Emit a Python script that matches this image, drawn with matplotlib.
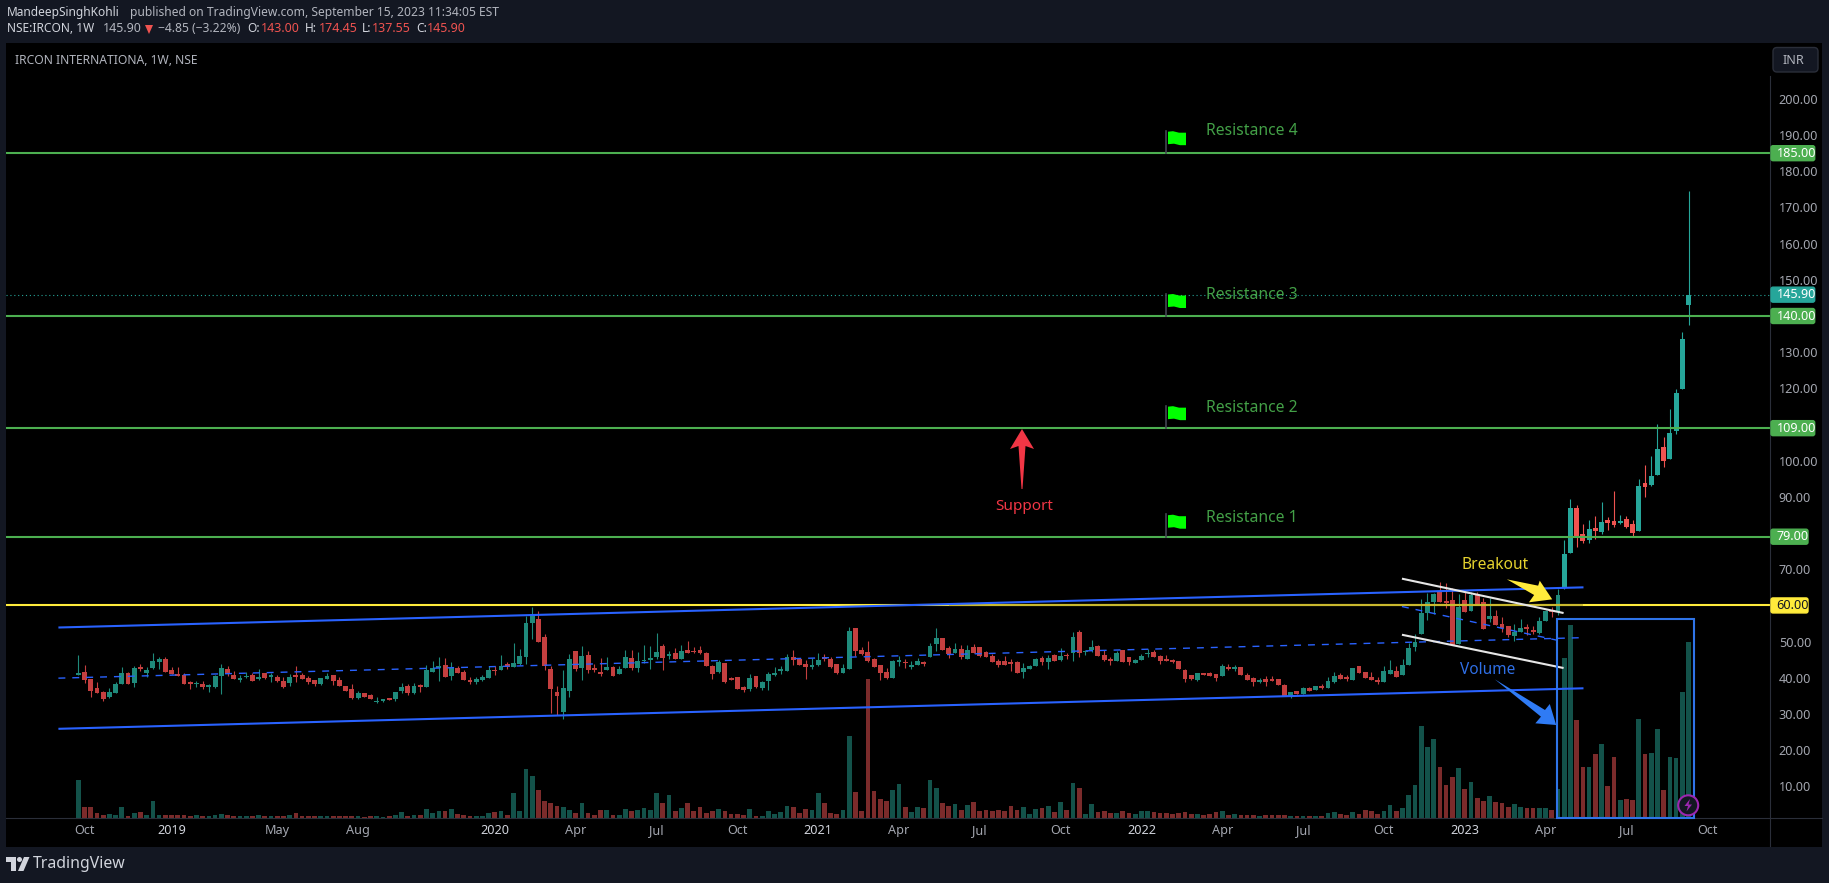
import matplotlib
matplotlib.use("Agg")
import matplotlib.pyplot as plt
from matplotlib.patches import Rectangle, Polygon, Ellipse, FancyBboxPatch

# ---- data (weekly candles) ----
opens = [40.8,41.7,39.7,37.2,36.1,34.6,35.9,38.4,41.4,38.7,
 43.0,41.4,42.6,44.4,45.3,42.2,41.1,40.8,38.9,38.2,
 38.3,37.5,37.5,40.6,42.5,40.8,39.5,40.1,40.8,39.7,
 41.4,40.1,40.3,39.2,38.6,40.8,40.8,40.0,39.5,38.3,
 39.7,40.8,39.5,37.8,37.0,34.5,35.9,35.3,33.4,33.6,
 34.3,34.2,36.4,37.8,35.9,38.1,37.5,41.7,42.8,43.6,
 40.6,42.8,41.7,39.5,38.9,39.5,40.0,42.2,42.2,43.9,
 43.0,43.9,45.8,55.2,56.3,51.3,42.5,36.1,30.6,36.4,
 47.5,42.8,46.4,42.8,41.7,42.2,43.0,41.1,42.8,45.5,
 42.8,44.7,45.0,45.8,48.9,46.1,46.9,45.3,47.7,47.5,
 47.7,46.9,43.3,41.7,44.1,40.0,40.3,37.5,37.0,40.6,
 37.2,39.2,40.8,41.9,41.9,45.8,45.3,43.9,43.0,43.6,
 45.8,45.3,43.9,41.4,42.5,53.8,47.7,47.2,45.3,43.6,
 41.7,40.0,44.4,44.4,43.0,43.6,44.4,45.8,49.4,51.1,
 48.3,46.9,48.0,45.3,48.6,48.6,47.2,46.1,44.7,44.7,
 44.4,44.4,41.7,42.5,43.3,45.5,44.4,46.4,45.0,46.4,
 46.9,52.7,47.2,47.7,48.9,46.4,45.3,44.7,47.7,45.8,
 44.2,45.0,46.7,47.2,46.1,45.3,45.0,44.7,42.2,40.8,
 39.5,41.4,41.4,41.1,40.6,43.0,42.5,43.0,40.8,40.0,
 38.9,39.7,39.7,39.7,38.1,35.0,36.4,35.6,37.2,36.7,
 37.8,37.2,38.9,40.8,40.3,39.4,43.3,41.7,40.3,39.4,
 38.9,41.1,41.9,40.8,43.6,48.6,52.2,58.0,61.0,63.8,
 61.3,61.6,49.4,61.6,58.5,63.0,61.0,56.3,57.1,54.9,
 54.4,51.6,52.7,54.1,53.3,52.4,55.8,58.8,58.3,65.2,
 74.6,86.9,79.7,78.1,81.4,80.3,83.6,83.3,82.8,83.9,
 82.5,80.6,93.8,93.3,96.0,103.8,100.5,108.2,119.8,143.0]
highs = [46.4,43.6,39.7,38.8,36.3,37.1,38.9,43.0,41.7,43.3,
 43.9,43.0,46.9,45.8,45.8,43.0,43.0,41.4,39.2,39.2,
 39.2,38.3,40.8,43.9,43.3,41.9,40.8,41.7,41.4,42.5,
 41.4,41.4,40.8,40.3,41.1,43.3,41.4,40.6,39.5,40.0,
 41.4,40.8,40.3,37.8,38.3,36.4,35.9,35.6,34.7,34.2,
 34.5,36.1,38.6,38.3,38.6,38.3,43.6,44.7,45.8,45.5,
 44.4,43.3,42.2,40.3,40.3,40.8,43.3,43.3,46.4,44.4,
 49.7,48.0,57.1,59.6,58.5,52.2,43.3,37.8,42.2,46.6,
 47.5,48.9,47.5,43.9,45.5,45.8,43.3,43.3,47.7,47.7,
 47.2,49.1,48.9,52.4,49.4,47.5,48.3,49.1,50.2,48.6,
 48.9,47.2,43.6,45.0,44.1,40.3,40.3,37.8,41.1,40.6,
 39.2,41.7,43.0,43.3,46.6,47.7,45.5,45.0,45.5,46.9,
 46.6,45.8,43.9,43.9,54.1,53.8,48.6,50.2,45.5,43.6,
 42.8,45.0,46.1,45.3,44.7,45.5,44.7,49.7,53.8,51.1,
 48.9,49.7,49.1,49.1,49.4,48.6,47.5,46.6,45.3,46.1,
 45.3,44.7,44.2,43.6,45.5,46.1,46.4,46.6,48.3,46.9,
 52.7,53.3,47.7,50.5,49.1,47.7,45.8,47.5,47.7,45.8,
 45.3,46.6,48.0,47.7,46.4,46.4,45.3,44.7,42.5,40.8,
 41.4,41.4,41.7,41.1,43.9,43.9,43.6,43.0,41.4,40.3,
 40.0,40.6,40.6,39.7,38.3,36.1,36.4,37.5,37.5,37.8,
 38.3,40.3,41.7,41.4,40.8,42.8,43.3,41.7,41.7,40.3,
 43.3,45.0,43.3,45.3,49.6,52.2,61.9,63.5,63.5,66.5,
 66.3,64.9,63.2,63.8,63.8,63.8,62.1,62.1,58.8,56.9,
 54.4,54.9,56.3,54.9,54.4,56.9,58.8,59.6,64.6,78.1,
 89.4,87.8,82.5,83.6,84.7,88.6,84.4,91.6,85.0,84.7,
 83.6,94.9,98.8,101.3,110.2,106.6,114.3,119.8,135.6,174.45]
lows = [40.8,38.7,34.8,35.7,33.7,34.3,35.9,38.4,38.4,37.5,
 41.9,40.3,42.5,42.5,41.7,41.1,40.6,38.2,37.0,37.5,
 37.0,36.1,37.2,35.6,40.6,39.7,38.9,40.0,39.2,39.5,
 39.7,38.9,38.9,37.2,37.8,38.9,39.7,38.3,37.8,38.1,
 39.7,38.1,37.8,36.4,34.2,34.2,34.7,34.2,33.1,33.4,
 33.9,33.6,35.9,35.3,35.6,36.1,37.5,41.7,39.2,40.3,
 39.5,41.4,39.5,38.3,38.3,39.2,40.0,40.8,42.2,42.5,
 43.0,43.6,43.9,50.8,50.0,42.2,30.3,29.8,28.7,34.7,
 41.9,39.5,41.4,41.7,40.6,42.2,40.6,41.1,42.8,42.2,
 41.7,44.2,42.5,45.3,42.2,45.3,45.3,45.3,46.9,46.9,
 46.6,43.3,39.7,41.4,38.6,39.5,37.0,36.1,36.4,37.2,
 36.7,36.7,40.6,41.1,41.9,43.6,43.6,39.7,42.5,43.3,
 44.7,42.8,41.1,41.4,42.5,46.1,46.4,44.4,43.0,39.5,
 39.7,40.0,43.3,42.8,42.5,43.6,43.3,45.8,47.5,47.7,
 45.5,46.9,45.3,45.3,46.9,45.8,45.8,44.4,43.0,43.6,
 41.9,41.4,40.0,42.5,43.3,43.6,42.5,44.7,44.7,45.3,
 44.7,45.8,46.4,47.2,46.1,44.7,43.6,44.7,44.4,43.6,
 44.2,45.0,45.8,45.8,43.9,44.7,44.2,42.5,38.9,39.5,
 39.2,40.8,40.6,39.2,40.6,42.2,41.9,40.8,39.5,37.8,
 38.6,37.8,39.2,38.1,35.0,34.5,35.6,35.6,36.4,36.7,
 37.0,37.2,38.6,39.7,39.2,39.4,41.4,40.0,39.4,38.3,
 38.9,41.1,40.3,40.8,43.6,47.5,52.2,56.0,57.7,61.0,
 59.4,49.1,49.4,58.3,58.5,60.5,53.5,55.5,54.7,52.7,
 51.3,50.2,52.7,51.9,52.2,52.2,55.8,56.9,57.4,64.5,
 74.6,76.2,77.3,77.3,78.4,79.7,80.8,81.7,82.5,81.4,
 79.2,80.6,90.0,93.0,96.0,98.3,100.5,107.4,119.8,137.55]
closes = [41.4,39.5,36.4,35.7,34.2,36.1,38.3,41.4,38.4,42.8,
 42.5,42.2,44.7,45.2,41.7,41.1,40.6,38.4,38.2,38.6,
 37.5,38.1,40.6,42.8,41.0,39.7,40.0,40.6,39.2,40.3,
 40.0,40.8,39.2,37.5,40.3,40.3,39.7,38.9,38.3,40.0,
 40.6,39.2,37.8,36.4,34.5,35.9,34.7,34.2,33.6,34.2,
 34.0,36.1,37.5,35.9,37.8,37.5,42.2,42.8,43.3,40.3,
 42.8,41.4,39.5,38.9,39.7,40.3,42.2,41.9,43.3,43.0,
 44.1,46.1,55.2,57.1,50.0,43.3,37.0,35.0,37.2,45.3,
 42.5,46.1,42.2,42.2,41.1,43.0,40.6,42.5,45.8,42.8,
 44.7,45.0,45.5,47.2,45.5,46.6,45.3,47.5,46.9,47.2,
 46.9,43.3,41.1,44.4,38.9,39.5,37.0,36.7,40.0,37.5,
 38.9,41.1,41.4,42.5,45.8,45.0,43.6,43.0,43.6,45.0,
 45.3,43.0,41.4,42.8,53.0,47.5,46.6,44.7,43.0,41.4,
 40.0,44.7,45.0,44.2,43.6,44.7,43.9,48.9,51.1,47.7,
 46.6,48.0,45.8,47.7,46.9,46.1,45.8,44.4,43.6,43.6,
 43.9,41.4,42.8,43.3,45.3,44.4,45.5,44.7,46.1,46.1,
 51.3,46.9,47.5,48.6,46.1,45.0,44.7,46.9,44.4,44.4,
 45.0,46.1,46.9,45.8,44.7,44.7,44.4,42.5,39.7,39.7,
 41.4,40.8,40.6,40.0,43.3,42.5,43.0,40.8,39.5,38.9,
 39.5,38.9,39.2,38.1,35.0,36.1,35.6,37.2,36.4,37.8,
 37.2,39.2,40.6,39.7,39.7,42.8,41.4,40.0,39.4,38.9,
 41.9,42.2,40.3,43.6,48.3,50.0,58.0,61.0,63.2,61.0,
 60.7,49.1,59.6,58.3,63.0,60.5,53.5,57.1,54.7,53.8,
 51.9,52.7,53.8,53.5,52.7,55.8,58.5,58.3,62.9,74.2,
 86.9,79.0,77.8,81.1,80.6,83.1,82.8,82.2,83.3,81.7,
 80.0,93.0,92.7,95.8,103.2,99.9,107.7,118.7,133.7,145.9]
volumes = [115,33,33,15,10,13,10,33,6,15,19,10,52,10,10,10,10,10,7,9,
 7,7,10,13,8,7,7,7,7,10,7,7,7,7,10,16,7,7,7,7,
 7,7,7,7,7,7,4,7,7,4,7,10,19,7,10,10,28,16,22,22,
 28,13,10,7,7,7,16,19,22,10,76,22,148,127,85,52,46,37,34,25,
 16,46,16,10,
 25,25,10,10,28,22,25,31,25,76,46,70,22,31,46,22,34,16,22,28,
 22,13,13,10,28,7,7,22,13,19,37,34,16,28,25,76,46,16,13,25,
 247,79,22,418,82,58,52,85,103,34,19,34,31,115,91,46,37,43,25,40,
 49,22,25,22,25,22,37,25,34,13,28,31,37,19,49,25,106,91,13,43,
 19,22,16,16,22,16,13,22,22,19,16,16,13,16,19,13,13,
 9,12,18,21,9,12,9,10,10,6,9,9,9,9,6,6,6,6,6,6,
 15,18,12,9,18,12,24,21,12,21,39,21,30,69,99,276,213,237,153,99,
 123,150,87,108,60,51,66,48,45,33,42,33,30,30,30,30,24,87,480,579,
 294,153,153,192,222,96,183,54,57,54,297,192,195,267,84,183,180,378,528]

time_tick_positions = [1,15,32,45,67,80,93,106,119,132,145,158,171,184,197,210,223,236,249,262]
time_tick_labels = ["Oct","2019","May","Aug","2020","Apr","Jul","Oct","2021","Apr","Jul","Oct",
                    "2022","Apr","Jul","Oct","2023","Apr","Jul","Oct"]
price_ticks = [10,20,30,40,50,70,90,100,120,130,150,160,170,180,190,200]
level_values = [185,140,109,79]
level_names = ["Resistance 4","Resistance 3","Resistance 2","Resistance 1"]
level_label_offsets = [21.7,21,20,19]
yellow_level = 60
last_price = 145.90

# trend lines as (week index, price) pairs
channel_upper = ([-3.2,242.1],[53.9,65.0])
channel_lower = ([-3.2,242.1],[25.9,37.1])
channel_mid = ([-3.2,242.1],[39.9,51.1])
flag_upper = ([212.9,238.9],[67.4,57.9])
flag_lower = ([212.9,238.9],[51.9,42.7])
flag_mid = ([212.9,238.9],[59.7,50.0])

assert len(opens)==len(highs)==len(lows)==len(closes)==len(volumes)==260, (len(opens),len(highs),len(lows),len(closes),len(volumes))

FONT = "Noto Sans"
plt.rcParams["font.family"] = [FONT, "DejaVu Sans"]
W, H = 1829, 883
BG = "#131722"
fig = plt.figure(figsize=(W/100, H/100), dpi=100, facecolor=BG)

def frac(x0, y0, x1, y1):
    return [x0/W, 1-y1/H, (x1-x0)/W, (y1-y0)/H]

fig.patches.append(Rectangle((6/W, 1-846.7/H), (1822-6)/W, (846.7-43)/H, transform=fig.transFigure,
                             facecolor="black", edgecolor="none", zorder=-5))

AX = (6, 43, 1770, 818)
# volume pane
vax = fig.add_axes(frac(*AX), facecolor="none", zorder=1)
vax.set_xlim(-11.63, 272.1); vax.set_ylim(0, 2325); vax.axis("off")
ax = fig.add_axes(frac(*AX), facecolor="none", zorder=2)
ax.set_xlim(-11.63, 272.1); ax.set_ylim(1.25, 215.45)
for s in ax.spines.values():
    s.set_visible(False)

idx = list(range(len(opens)))
up = [c >= o for o, c in zip(opens, closes)]
vax.bar(idx, volumes, width=0.76, linewidth=0,
        color=["#13524a" if u else "#7b2b2b" for u in up])

def cols(i, u):
    if i >= 239:
        return "#26a69a" if u else "#ef5350"
    return "#1f8a7b" if u else "#c43f3f"
cc = [cols(i, u) for i, u in zip(idx, up)]
ax.vlines(idx, lows, highs, colors=cc, linewidth=0.8, zorder=3)
ax.bar(idx, [abs(c-o) for o, c in zip(opens, closes)], bottom=[min(o, c) for o, c in zip(opens, closes)],
       width=0.78, color=cc, linewidth=0, zorder=3)

# levels
GREEN = "#4caf50"
for v in level_values:
    ax.axhline(v, color=GREEN, lw=1.5, zorder=5)
ax.axhline(yellow_level, color="#ffeb3b", lw=1.5, zorder=5)
ax.plot([140, 242], [yellow_level, yellow_level], color="#c9b82e", lw=1.5, zorder=5.1, solid_capstyle="butt")
ax.axhline(last_price, color="#26a69a", lw=0.8, ls=(0, (1, 2.5)), zorder=2)

BLUE = "#2962ff"
for ln in (channel_upper, channel_lower):
    ax.plot(*ln, color=BLUE, lw=1.5, zorder=6, solid_capstyle="butt")
for ln in (channel_mid, flag_mid):
    ax.plot(*ln, color=BLUE, lw=1.0, ls=(0, (5, 5)), zorder=6)
for ln in (flag_upper, flag_lower):
    ax.plot(*ln, color="#e6e6e6", lw=1.5, zorder=6, solid_capstyle="butt")

# axis ticks
ax.yaxis.tick_right()
ax.set_yticks(price_ticks, [f"{v:.2f}" for v in price_ticks])
ax.tick_params(axis="y", length=0, pad=6.3, labelsize=9.1, labelcolor="#a3a6af")
ax.set_xticks(time_tick_positions, time_tick_labels)
ax.tick_params(axis="x", length=0, pad=4.5, labelsize=9.1, labelcolor="#a3a6af")
for lab in ax.get_xticklabels():
    if lab.get_text().isdigit():
        lab.set_color("#d1d4dc")
        lab.set_fontweight("medium")

# overlay in picture pixels for annotations and chrome
ov = fig.add_axes([0, 0, 1, 1], facecolor="none", zorder=3)
ov.set_xlim(0, W); ov.set_ylim(H, 0); ov.axis("off")

ov.plot([6, 1822], [818, 818], color="#2a2e39", lw=0.8)
ov.plot([1770, 1770], [76, 846], color="#2a2e39", lw=0.8)

def py(v):
    return 536.7 - (v - 79) * 3.618

def tag(v, col, txt, tc="white", right=1816.7):
    ov.add_patch(FancyBboxPatch((1771, py(v)-7.5), right-1773, 15, boxstyle="round,pad=0,rounding_size=2",
                                facecolor=col, edgecolor=col, lw=1.0, zorder=8))
    ov.text(1776.5, py(v)+0.3, txt, color=tc, fontsize=9.1, ha="left", va="center", zorder=9)

for v in level_values:
    tag(v, GREEN, f"{v:.2f}", right=1816.7 if v >= 100 else 1810)
tag(yellow_level, "#ffeb3b", f"{yellow_level:.2f}", tc="#131722", right=1810)
tag(last_price, "#26a69a", f"{last_price:.2f}")

# flags and resistance labels
for v, name, off in zip(level_values, level_names, level_label_offsets):
    y0 = py(v)
    ov.plot([1166, 1166], [y0, y0-22.5], color="#434651", lw=1.2, zorder=6)
    ov.add_patch(Polygon([(1168, y0-21.5), (1173, y0-22), (1179, y0-20.5), (1186, y0-20.5),
                          (1186, y0-8), (1180, y0-8), (1174, y0-9.5), (1168, y0-9)],
                         closed=True, facecolor="#00ff00", edgecolor="none", zorder=6))
    ov.text(1206.5, y0-off, name, color="#43a047", fontsize=11.3, ha="left", va="center", zorder=6, fontweight="medium")

# support arrow
ov.add_patch(Polygon([(1022, 429), (1034, 449), (1025.5, 446), (1022.5, 489), (1021.5, 489), (1018.5, 446), (1010, 449)],
                     closed=True, facecolor="#f23645", edgecolor="none", zorder=7))
ov.text(1024, 507, "Support", color="#f23645", fontsize=11, ha="center", va="center", fontweight="semibold")

def z4(pts):
    return [(x/2.493+1200, y/3+540) for x, y in pts]
# breakout arrow
ov.add_patch(Polygon(z4([(765, 118), (843, 137), (847, 122), (878, 178), (820, 187), (833, 165)]),
                     closed=True, facecolor="#ffeb3b", edgecolor="none", zorder=7))
ov.text(1495, 565, "Breakout", color="#e6d32e", fontsize=11.2, ha="center", va="center", fontweight="semibold")
# volume arrow
ov.add_patch(Polygon(z4([(735, 418), (860, 510), (872, 492), (888, 555), (836, 550), (850, 530)]),
                     closed=True, facecolor="#2f7bf5", edgecolor="none", zorder=7))
ov.text(1488, 670, "Volume", color="#2f6fe6", fontsize=11.1, ha="center", va="center", fontweight="semibold")
ov.add_patch(Rectangle((1556.6, 619), 137.4, 199, facecolor="none", edgecolor="#2f74e8", lw=1.5, zorder=7))

# alert badge
ov.add_patch(Ellipse((1688.2, 805.3), 20, 20, facecolor="#131722", edgecolor="#9c27b0", lw=1.5, zorder=8))
ov.add_patch(Polygon([(1690, 799), (1684.5, 806), (1688, 806), (1686.5, 811.5), (1692, 804.5), (1688.5, 804.5)],
                     closed=True, facecolor="#9c27b0", edgecolor="none", zorder=9))

# INR button
ov.add_patch(FancyBboxPatch((1773, 47.5), 45, 24.5, boxstyle="round,pad=0,rounding_size=4",
                            facecolor=BG, edgecolor="#2a2e39", lw=1, zorder=8))
ov.text(1783, 60, "INR", color="#b2b5be", fontsize=9, ha="left", va="center", zorder=9)

# header
G = "#b2b5be"; L = "#d1d4dc"; RED = "#ef5350"
def t(x, y, s, c=G, w="normal", fs=8.7):
    ov.text(x, y, s, color=c, fontsize=fs, ha="left", va="center", fontweight=w)
t(7, 12.5, "MandeepSinghKohli", L, "bold", 8.6)
t(129.6, 12.5, "published on TradingView.com, September 15, 2023 11:34:05 EST")
t(7, 29, "NSE:IRCON, 1W", L, "bold", 8.6)
t(103, 29, "145.90", fs=9)
ov.add_patch(Polygon([(145, 25), (153, 25), (149, 34)], closed=True, facecolor=RED, edgecolor="none"))
t(158, 29, "\u22124.85 (\u22123.22%)")
for x, s in ((247, "O:"), (305, "H:"), (362, "L:"), (416, "C:")):
    t(x, 29, s, L, "bold", 8.6)
for x, s in ((261, "143.00"), (319, "174.45"), (372, "137.55"), (427, "145.90")):
    t(x, 29, s, RED, fs=9)
t(15, 60.5, "IRCON INTERNATIONA, 1W, NSE", G, "medium", 8.7)

# logo
ov.add_patch(Polygon([(6, 857), (16, 857), (16, 871), (11, 871), (11, 862), (6, 862)], closed=True, facecolor=L, edgecolor="none"))
ov.add_patch(Ellipse((19.5, 859.5), 5, 5, facecolor=L, edgecolor="none"))
ov.add_patch(Polygon([(24, 857), (29.5, 857), (23.5, 871), (18, 871)], closed=True, facecolor=L, edgecolor="none"))
ov.text(33, 864, "TradingView", color=L, fontsize=11.4, ha="left", va="center", fontweight="medium")

fig.savefig("out.png", dpi=100, facecolor=BG)
